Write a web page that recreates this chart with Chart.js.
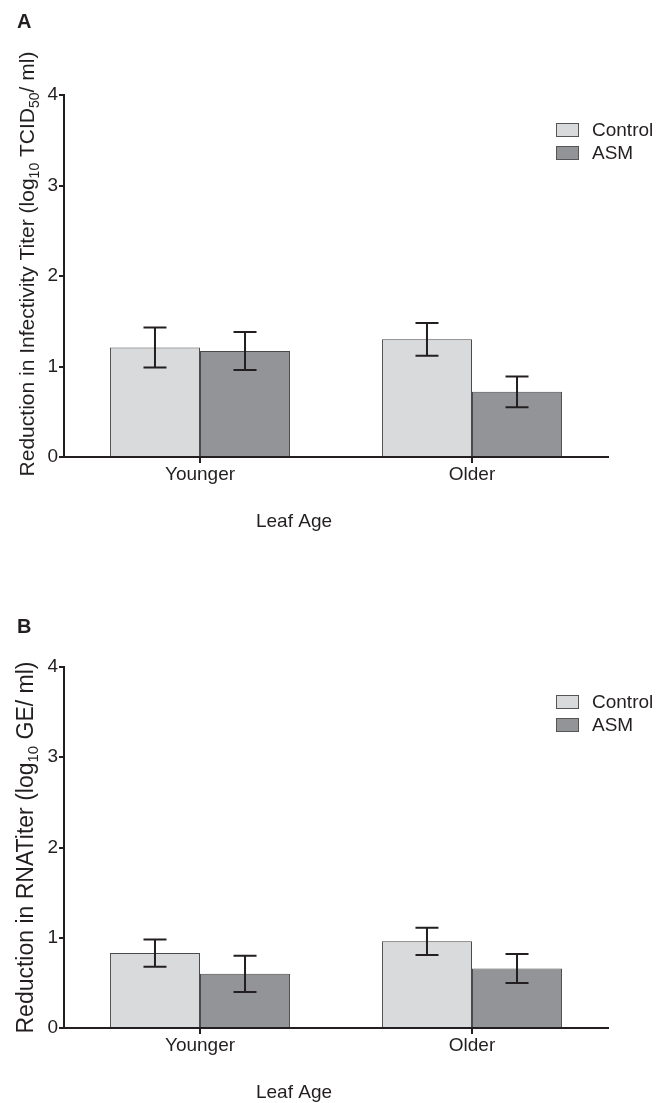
<!DOCTYPE html>
<html>
<head>
<meta charset="utf-8">
<script src="https://cdn.jsdelivr.net/npm/chart.js@4/dist/chart.umd.min.js"></script>
<style>
  body { margin: 0; background: #fff; }
  #wrap { position: relative; width: 665px; height: 1103px; }
  canvas { position: absolute; left: 0; }
</style>
</head>
<body>
<div id="wrap">
  <canvas id="chartA" width="665" height="550" style="top:0"></canvas>
  <canvas id="chartB" width="665" height="543" style="top:560px"></canvas>
</div>
<script>
// datos
const categories = ["Younger", "Older"];
const seriesNames = ["Control", "ASM"];

// panel A: infectividad
const infectControl    = [1.21, 1.30];
const infectControlErr = [0.22, 0.18];
const infectASM        = [1.17, 0.72];
const infectASMErr     = [0.21, 0.17];

// panel B: titulo de ARN
const rnaControl    = [0.83, 0.96];
const rnaControlErr = [0.15, 0.15];
const rnaASM        = [0.60, 0.66];
const rnaASMErr     = [0.20, 0.16];

const yTicks = [0, 1, 2, 3, 4];

const INK = "#231f20";
const FONT = '"Liberation Sans", Arial, Helvetica, sans-serif';
const colors = ["#d9dadb", "#939497"];

Chart.defaults.font.family = FONT;
Chart.defaults.color = INK;

// barras de error, encima de las barras
const errorBars = {
  id: "errorBars",
  afterDatasetsDraw(chart) {
    const ctx = chart.ctx;
    const y = chart.scales.y;
    ctx.save();
    ctx.strokeStyle = INK;
    ctx.lineWidth = 2;
    chart.data.datasets.forEach((ds, i) => {
      chart.getDatasetMeta(i).data.forEach((bar, j) => {
        const v = ds.data[j], e = ds.errors[j];
        const top = y.getPixelForValue(v + e);
        const bot = y.getPixelForValue(v - e);
        const half = 11.5;
        ctx.beginPath();
        ctx.moveTo(bar.x, top); ctx.lineTo(bar.x, bot);
        ctx.moveTo(bar.x - half, top); ctx.lineTo(bar.x + half, top);
        ctx.moveTo(bar.x - half, bot); ctx.lineTo(bar.x + half, bot);
        ctx.stroke();
      });
    });
    ctx.restore();
  }
};

// textos: letra del panel, titulo Y con subindices, titulo X y leyenda
const panelText = {
  id: "panelText",
  afterDraw(chart, args, opts) {
    const ctx = chart.ctx;
    const area = chart.chartArea;
    ctx.save();
    ctx.fillStyle = INK;

    // letra
    ctx.font = "bold 20px " + FONT;
    ctx.textBaseline = "alphabetic";
    ctx.textAlign = "left";
    ctx.fillText(opts.letter, 17, opts.letterY);

    // titulo eje Y (rotado)
    const size = opts.ySize;
    const subSize = Math.round(size * 0.65);
    const widthOf = s => {
      ctx.font = (s.sub ? subSize : size) + "px " + FONT;
      return ctx.measureText(s.t).width;
    };
    const total = opts.yTitle.reduce((a, s) => a + widthOf(s), 0);
    const cy = (area.top + area.bottom) / 2 + (opts.yShift || 0);
    ctx.translate(opts.yTitleX, cy);
    ctx.rotate(-Math.PI / 2);
    let x = -total / 2;
    opts.yTitle.forEach(s => {
      ctx.font = (s.sub ? subSize : size) + "px " + FONT;
      ctx.fillText(s.t, x, s.sub ? size * 0.22 : 0);
      x += ctx.measureText(s.t).width;
    });
    ctx.setTransform(1, 0, 0, 1, 0, 0);

    // titulo eje X
    ctx.font = "19px " + FONT;
    ctx.textAlign = "center";
    ctx.textBaseline = "middle";
    ctx.fillText(opts.xTitle, 294, area.bottom + 65);

    // leyenda
    ctx.textAlign = "left";
    chart.data.datasets.forEach((ds, i) => {
      const bx = area.right - 52, by = area.top + 28 + i * 23;
      ctx.fillStyle = ds.backgroundColor;
      ctx.fillRect(bx, by, 23, 14);
      ctx.strokeStyle = "#555";
      ctx.lineWidth = 1;
      ctx.strokeRect(bx + 0.5, by + 0.5, 22, 13);
      ctx.fillStyle = INK;
      ctx.fillText(ds.label, bx + 36, by + 7.5);
    });
    ctx.restore();
  }
};

function makeChart(id, control, controlErr, asm, asmErr, text, pad) {
  return new Chart(document.getElementById(id), {
    type: "bar",
    data: {
      labels: categories,
      datasets: [
        { label: seriesNames[0], data: control, errors: controlErr,
          backgroundColor: colors[0], borderColor: "#4a4a4a", borderWidth: 1 },
        { label: seriesNames[1], data: asm, errors: asmErr,
          backgroundColor: colors[1], borderColor: "#4a4a4a", borderWidth: 1 }
      ]
    },
    options: {
      responsive: false,
      animation: false,
      layout: { padding: pad },
      datasets: { bar: { categoryPercentage: 0.662, barPercentage: 1.0 } },
      plugins: {
        legend: { display: false },
        tooltip: { enabled: false },
        panelText: text
      },
      scales: {
        x: {
          afterFit: s => { s.height = 30; },
          grid: { offset: false, drawOnChartArea: false, tickLength: 6, color: INK, lineWidth: 2 },
          border: { color: INK, width: 2 },
          ticks: { font: { size: 19 }, color: INK, padding: 0 }
        },
        y: {
          min: yTicks[0],
          max: yTicks[yTicks.length - 1],
          afterFit: s => { s.width = 64; },
          afterBuildTicks: s => { s.ticks = yTicks.map(v => ({ value: v })); },
          grid: { drawOnChartArea: false, tickLength: 5, color: INK, lineWidth: 2 },
          border: { color: INK, width: 2 },
          ticks: { font: { size: 19 }, color: INK, padding: 1 }
        }
      }
    },
    plugins: [errorBars, panelText]
  });
}

makeChart("chartA", infectControl, infectControlErr, infectASM, infectASMErr, {
  letter: "A", letterY: 28,
  ySize: 21, yTitleX: 34, yShift: -12,
  yTitle: [
    { t: "Reduction in Infectivity Titer (log" }, { t: "10", sub: true },
    { t: " TCID" }, { t: "50", sub: true }, { t: "/ ml)" }
  ],
  xTitle: "Leaf Age"
}, { left: 0, right: 57, top: 95, bottom: 550 - 457 - 30 });

makeChart("chartB", rnaControl, rnaControlErr, rnaASM, rnaASMErr, {
  letter: "B", letterY: 73,
  ySize: 23, yTitleX: 33, yShift: 0,
  yTitle: [
    { t: "Reduction in RNATiter (log" }, { t: "10", sub: true }, { t: " GE/ ml)" }
  ],
  xTitle: "Leaf Age"
}, { left: 0, right: 57, top: 107, bottom: 543 - 468 - 30 });
</script>
</body>
</html>
